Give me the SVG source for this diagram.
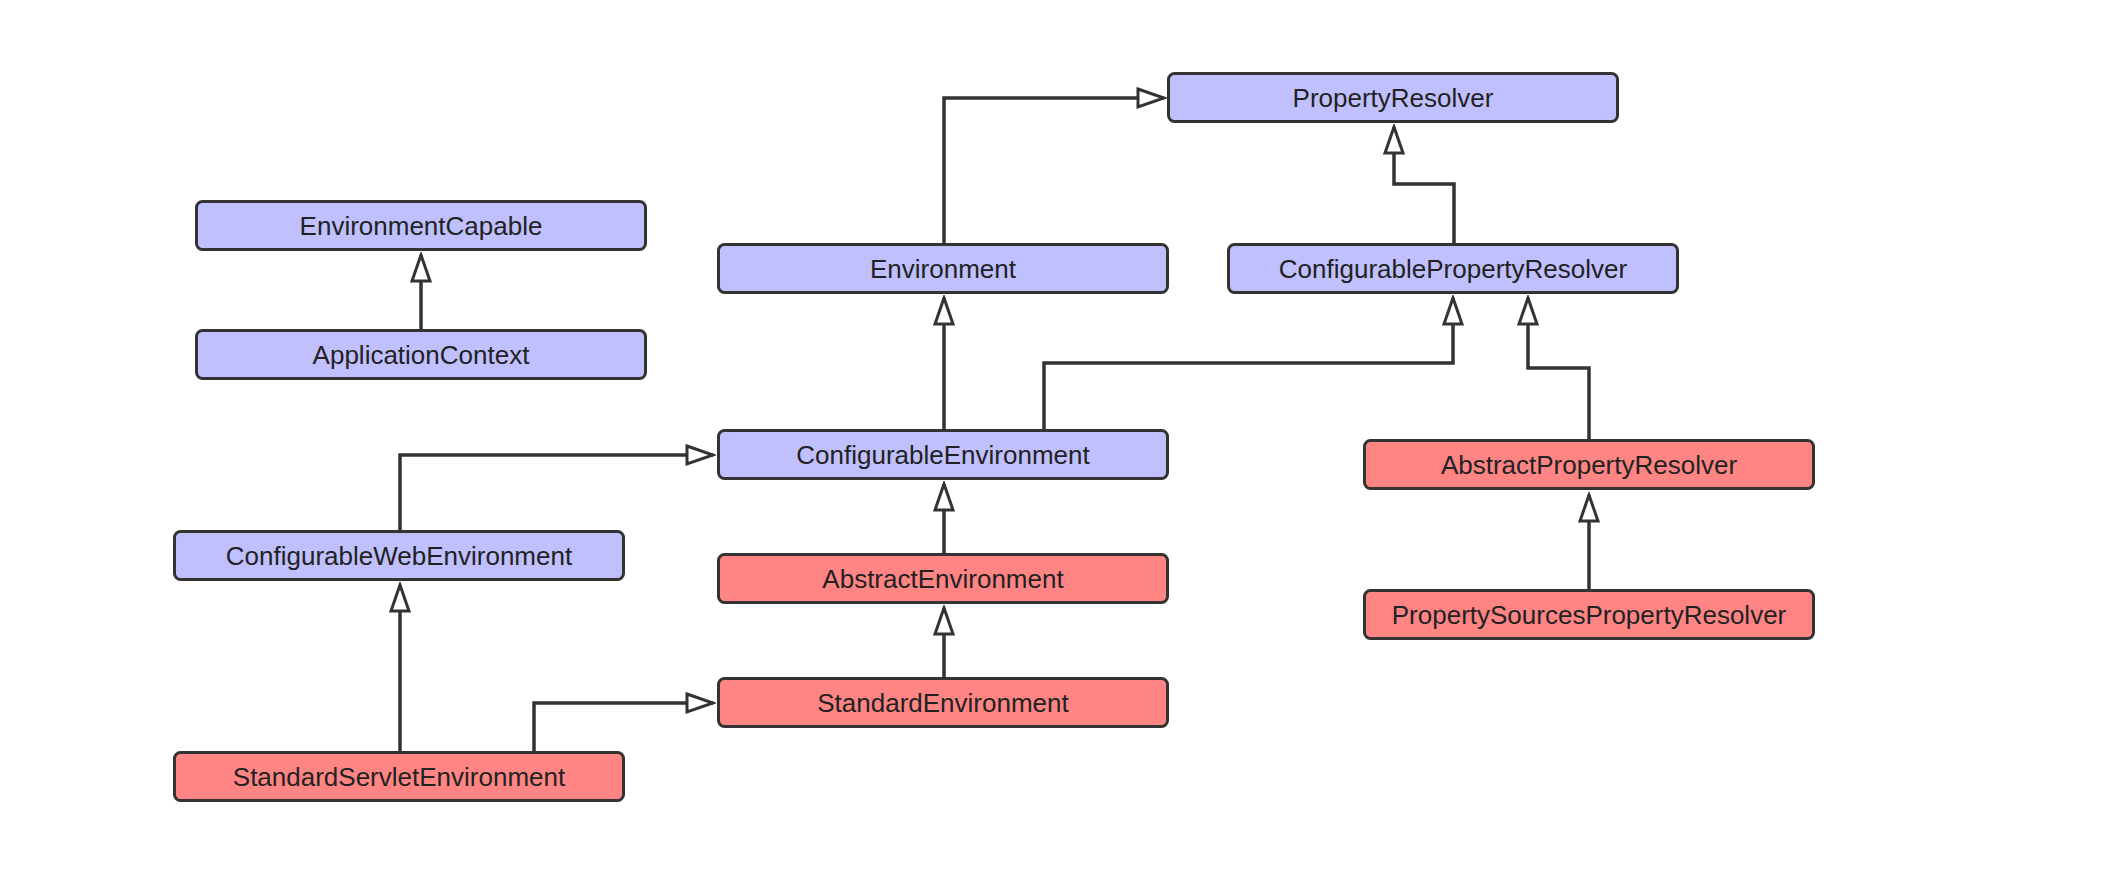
<svg xmlns="http://www.w3.org/2000/svg" width="2104" height="874" viewBox="0 0 2104 874">
  <style>
    .box rect { stroke: #333333; stroke-width: 3; }
    .iface rect { fill: #C0C0FF; }
    .impl rect { fill: #FF8585; }
    .box text { font-family: "Liberation Sans", Arial, Helvetica, sans-serif; font-size: 26px; fill: #222222; text-anchor: middle; }
    .edges path { fill: none; stroke: #333333; stroke-width: 3.5; marker-end: url(#inherit); }
  </style>
  <defs>
    <!-- hollow triangle for generalization / realization -->
    <marker id="inherit" viewBox="0 0 32 24" markerWidth="32" markerHeight="24" markerUnits="userSpaceOnUse" refX="29" refY="12" orient="auto">
      <path d="M3,3 L29,12 L3,21 Z" fill="#ffffff" stroke="#333333" stroke-width="3" stroke-linejoin="miter"/>
    </marker>
  </defs>

  <rect width="2104" height="874" fill="#ffffff"/>

  <g class="edges" id="connectors">
    <path d="M421,329 V255"/>
    <path d="M944,243 V98 H1164"/>
    <path d="M1454,243 V184 H1394 V127"/>
    <path d="M944,429 V298"/>
    <path d="M1044,429 V363 H1453 V298"/>
    <path d="M1589,439 V368 H1528 V298"/>
    <path d="M1589,589 V495"/>
    <path d="M400,530 V455 H713"/>
    <path d="M944,553 V484"/>
    <path d="M944,677 V608"/>
    <path d="M400,751 V585"/>
    <path d="M534,751 V703 H713"/>
  </g>

  <g id="PropertyResolver" class="box iface">
    <rect x="1168.5" y="73.5" width="449" height="48" rx="6"/>
    <text x="1393" y="106.5">PropertyResolver</text>
  </g>
  <g id="EnvironmentCapable" class="box iface">
    <rect x="196.5" y="201.5" width="449" height="48" rx="6"/>
    <text x="421" y="234.5">EnvironmentCapable</text>
  </g>
  <g id="ApplicationContext" class="box iface">
    <rect x="196.5" y="330.5" width="449" height="48" rx="6"/>
    <text x="421" y="363.5">ApplicationContext</text>
  </g>
  <g id="Environment" class="box iface">
    <rect x="718.5" y="244.5" width="449" height="48" rx="6"/>
    <text x="943" y="277.5">Environment</text>
  </g>
  <g id="ConfigurablePropertyResolver" class="box iface">
    <rect x="1228.5" y="244.5" width="449" height="48" rx="6"/>
    <text x="1453" y="277.5">ConfigurablePropertyResolver</text>
  </g>
  <g id="ConfigurableEnvironment" class="box iface">
    <rect x="718.5" y="430.5" width="449" height="48" rx="6"/>
    <text x="943" y="463.5">ConfigurableEnvironment</text>
  </g>
  <g id="AbstractPropertyResolver" class="box impl">
    <rect x="1364.5" y="440.5" width="449" height="48" rx="6"/>
    <text x="1589" y="473.5">AbstractPropertyResolver</text>
  </g>
  <g id="ConfigurableWebEnvironment" class="box iface">
    <rect x="174.5" y="531.5" width="449" height="48" rx="6"/>
    <text x="399" y="564.5">ConfigurableWebEnvironment</text>
  </g>
  <g id="AbstractEnvironment" class="box impl">
    <rect x="718.5" y="554.5" width="449" height="48" rx="6"/>
    <text x="943" y="587.5">AbstractEnvironment</text>
  </g>
  <g id="PropertySourcesPropertyResolver" class="box impl">
    <rect x="1364.5" y="590.5" width="449" height="48" rx="6"/>
    <text x="1589" y="623.5">PropertySourcesPropertyResolver</text>
  </g>
  <g id="StandardEnvironment" class="box impl">
    <rect x="718.5" y="678.5" width="449" height="48" rx="6"/>
    <text x="943" y="711.5">StandardEnvironment</text>
  </g>
  <g id="StandardServletEnvironment" class="box impl">
    <rect x="174.5" y="752.5" width="449" height="48" rx="6"/>
    <text x="399" y="785.5">StandardServletEnvironment</text>
  </g>
</svg>
